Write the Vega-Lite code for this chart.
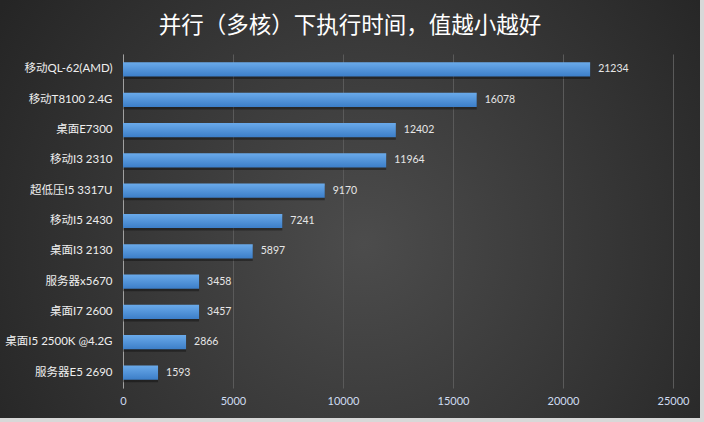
{
  "$schema": "https://vega.github.io/schema/vega-lite/v6.json",
  "autosize": "none",
  "width": 700,
  "height": 418,
  "padding": {"left": 0, "top": 0, "right": 4, "bottom": 4},
  "background": "#d8d8d8",
  "title": {
    "text": "并行（多核）下执行时间，值越小越好",
    "color": "#ffffff",
    "font": "Noto Sans CJK SC",
    "fontSize": 22.5,
    "fontWeight": "normal",
    "anchor": "middle",
    "offset": -37
  },
  "config": {
    "view": {
      "stroke": null,
      "fill": {
        "gradient": "radial",
        "x1": 0.52, "y1": 0.55, "r1": 0,
        "x2": 0.52, "y2": 0.55, "r2": 0.62,
        "stops": [
          {"offset": 0, "color": "#4c4c4c"},
          {"offset": 1, "color": "#252525"}
        ]
      }
    },
    "font": "Lato, Noto Sans CJK SC"
  },
  "data": {
    "values": [
      {"name": "移动QL-62(AMD)", "value": 21234},
      {"name": "移动T8100 2.4G", "value": 16078},
      {"name": "桌面E7300", "value": 12402},
      {"name": "移动I3 2310", "value": 11964},
      {"name": "超低压I5 3317U", "value": 9170},
      {"name": "移动I5 2430", "value": 7241},
      {"name": "桌面I3 2130", "value": 5897},
      {"name": "服务器x5670", "value": 3458},
      {"name": "桌面I7 2600", "value": 3457},
      {"name": "桌面I5 2500K @4.2G", "value": 2866},
      {"name": "服务器E5 2690", "value": 1593}
    ]
  },
  "resolve": {"axis": {"x": "independent"}},
  "layer": [
    {
      "mark": {
        "type": "bar",
        "color": "#000000",
        "opacity": 0.35,
        "yOffset": 2.5,
        "x2Offset": 2.5
      },
      "encoding": {
        "y": {
          "field": "name",
          "type": "nominal",
          "sort": {"field": "value", "order": "descending"},
          "scale": {"range": [54, 388], "paddingInner": 0.53, "paddingOuter": 0.275},
          "axis": {
            "title": null,
            "ticks": false,
            "domain": true,
            "domainColor": "#a0a0a0",
            "labelColor": "#eeeeee",
            "labelFontSize": 11.5,
            "labelPadding": 11,
            "labelLimit": 200,
            "offset": -123
          }
        },
        "x": {
          "field": "value",
          "type": "quantitative",
          "scale": {"domain": [0, 25000], "range": [123, 673], "nice": false},
          "axis": {
            "orient": "top",
            "title": null,
            "values": [0, 5000, 10000, 15000, 20000, 25000],
            "grid": true,
            "gridColor": "#5a5a5a",
            "domain": false,
            "ticks": false,
            "labels": false
          }
        }
      }
    },
    {
      "mark": {
        "type": "bar",
        "color": {
          "gradient": "linear",
          "x1": 0, "y1": 0, "x2": 0, "y2": 1,
          "stops": [
            {"offset": 0, "color": "#6aaaea"},
            {"offset": 1, "color": "#3c7ec8"}
          ]
        }
      },
      "encoding": {
        "y": {
          "field": "name",
          "type": "nominal",
          "sort": {"field": "value", "order": "descending"}
        },
        "x": {
          "field": "value",
          "type": "quantitative",
          "axis": {
            "orient": "bottom",
            "title": null,
            "values": [0, 5000, 10000, 15000, 20000, 25000],
            "format": "d",
            "grid": false,
            "domain": false,
            "ticks": false,
            "labelColor": "#cfdcf0",
            "labelFontSize": 11,
            "labelPadding": -23,
            "labelFlush": false
          }
        }
      }
    },
    {
      "mark": {
        "type": "text",
        "align": "left",
        "dx": 8,
        "color": "#e6e6e6",
        "fontSize": 10.5,
        "font": "Lato"
      },
      "encoding": {
        "y": {
          "field": "name",
          "type": "nominal",
          "sort": {"field": "value", "order": "descending"}
        },
        "x": {"field": "value", "type": "quantitative", "axis": null},
        "text": {"field": "value", "type": "quantitative", "format": "d"}
      }
    }
  ]
}
